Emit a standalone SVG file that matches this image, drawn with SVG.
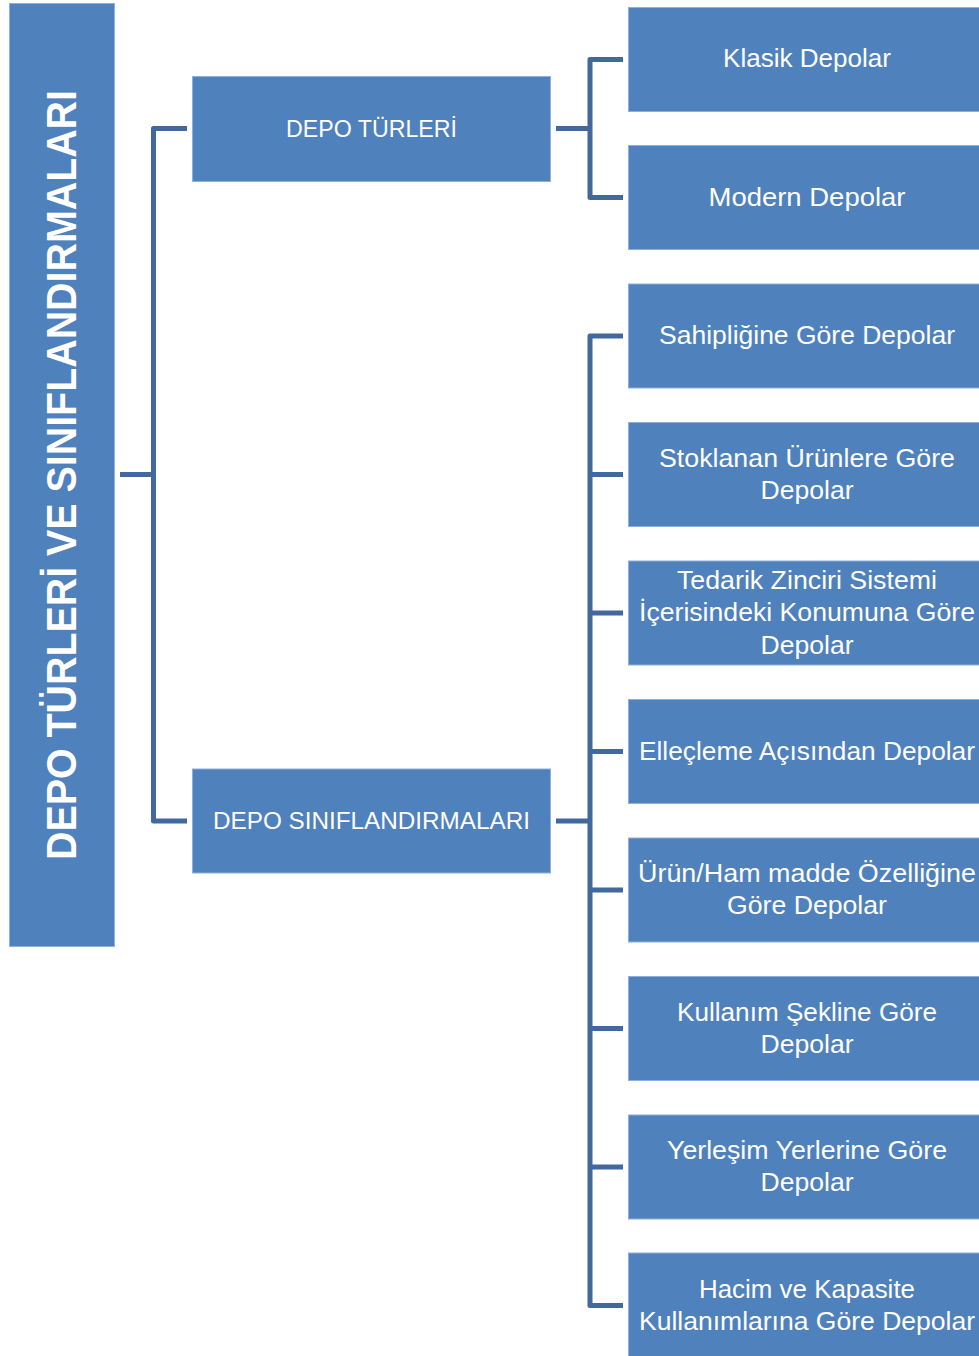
<svg xmlns="http://www.w3.org/2000/svg" width="979" height="1356" viewBox="0 0 979 1356">
<style>
.box{fill:#4F81BD;stroke:#8DB0DC;stroke-width:1}
.t{font-family:"Liberation Sans",Arial,sans-serif;font-size:25px;fill:#FFFFFF;text-anchor:middle}
.m{font-family:"Liberation Sans",Arial,sans-serif;font-size:23px;fill:#FFFFFF;text-anchor:middle}
.big{font-family:"Liberation Sans",Arial,sans-serif;font-size:43px;font-weight:bold;fill:#FFFFFF;text-anchor:middle}
.c{fill:none;stroke:#41699D;stroke-width:5;stroke-linejoin:round}
</style>
<rect width="979" height="1356" fill="#FFFFFF"/>
<g id="connectors">
<path class="c" d="M120,474.5 H153.5 M187,128.5 H153.5 V821 H187"/>
<path class="c" d="M556,128.5 H590 M623,59.5 H590 V197.5 H623"/>
<path class="c" d="M556,821 H590 M623,336 H590 V1305.5 H623 M590,474.5 H623 M590,613 H623 M590,751.5 H623 M590,890 H623 M590,1028.5 H623 M590,1167 H623"/>
</g>
<g id="root">
<rect class="box" x="9.5" y="3.5" width="105" height="943"/>
<text class="big" transform="translate(76,475) rotate(-90)" x="0" y="0" textLength="770" lengthAdjust="spacingAndGlyphs">DEPO TÜRLERİ VE SINIFLANDIRMALARI</text>
</g>
<g id="depo-turleri">
<rect class="box" x="192.5" y="76.5" width="358" height="105"/>
<text class="m" x="371.5" y="136.5" textLength="171" lengthAdjust="spacingAndGlyphs">DEPO TÜRLERİ</text>
</g>
<g id="depo-siniflandirmalari">
<rect class="box" x="192.5" y="769" width="358" height="104"/>
<text class="m" x="371.5" y="829" textLength="317" lengthAdjust="spacingAndGlyphs">DEPO SINIFLANDIRMALARI</text>
</g>
<g id="klasik">
<rect class="box" x="628.5" y="7.5" width="360" height="104"/>
<text class="t" x="807" y="67" textLength="168" lengthAdjust="spacingAndGlyphs">Klasik Depolar</text>
</g>
<g id="modern">
<rect class="box" x="628.5" y="145.5" width="360" height="104"/>
<text class="t" x="807" y="205.5" textLength="197" lengthAdjust="spacingAndGlyphs">Modern Depolar</text>
</g>
<g id="sahiplik">
<rect class="box" x="628.5" y="284" width="360" height="104"/>
<text class="t" x="807" y="344" textLength="296" lengthAdjust="spacingAndGlyphs">Sahipliğine Göre Depolar</text>
</g>
<g id="stoklanan">
<rect class="box" x="628.5" y="422.5" width="360" height="104"/>
<text class="t" x="807" y="467" textLength="296" lengthAdjust="spacingAndGlyphs">Stoklanan Ürünlere Göre</text>
<text class="t" x="807" y="499" textLength="93" lengthAdjust="spacingAndGlyphs">Depolar</text>
</g>
<g id="tedarik">
<rect class="box" x="628.5" y="561" width="360" height="104"/>
<text class="t" x="807" y="589" textLength="260" lengthAdjust="spacingAndGlyphs">Tedarik Zinciri Sistemi</text>
<text class="t" x="807" y="621" textLength="336" lengthAdjust="spacingAndGlyphs">İçerisindeki Konumuna Göre</text>
<text class="t" x="807" y="654" textLength="93" lengthAdjust="spacingAndGlyphs">Depolar</text>
</g>
<g id="ellecleme">
<rect class="box" x="628.5" y="699.5" width="360" height="104"/>
<text class="t" x="807" y="759.5" textLength="336" lengthAdjust="spacingAndGlyphs">Elleçleme Açısından Depolar</text>
</g>
<g id="urun">
<rect class="box" x="628.5" y="838" width="360" height="104"/>
<text class="t" x="807" y="882" textLength="338" lengthAdjust="spacingAndGlyphs">Ürün/Ham madde Özelliğine</text>
<text class="t" x="807" y="914" textLength="160" lengthAdjust="spacingAndGlyphs">Göre Depolar</text>
</g>
<g id="kullanim">
<rect class="box" x="628.5" y="976.5" width="360" height="104"/>
<text class="t" x="807" y="1021" textLength="260" lengthAdjust="spacingAndGlyphs">Kullanım Şekline Göre</text>
<text class="t" x="807" y="1053" textLength="93" lengthAdjust="spacingAndGlyphs">Depolar</text>
</g>
<g id="yerlesim">
<rect class="box" x="628.5" y="1115" width="360" height="104"/>
<text class="t" x="807" y="1159" textLength="280" lengthAdjust="spacingAndGlyphs">Yerleşim Yerlerine Göre</text>
<text class="t" x="807" y="1191" textLength="93" lengthAdjust="spacingAndGlyphs">Depolar</text>
</g>
<g id="hacim">
<rect class="box" x="628.5" y="1253" width="360" height="110"/>
<text class="t" x="807" y="1298" textLength="216" lengthAdjust="spacingAndGlyphs">Hacim ve Kapasite</text>
<text class="t" x="807" y="1330" textLength="336" lengthAdjust="spacingAndGlyphs">Kullanımlarına Göre Depolar</text>
</g>
</svg>
